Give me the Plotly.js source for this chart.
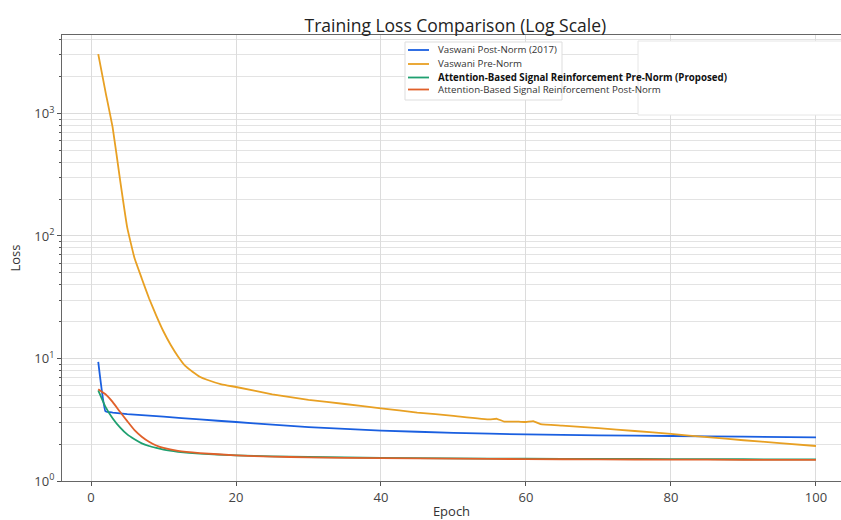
<!DOCTYPE html>
<html>
<head>
<meta charset="utf-8">
<script src="https://cdn.plot.ly/plotly-3.0.1.min.js"></script>
<style>html,body{margin:0;padding:0;background:#fff;}#chart{width:841px;height:520px;}</style>
</head>
<body>
<div id="chart"></div>
<script>
// Series names
const seriesNames = [
  'Vaswani Post-Norm (2017)',
  'Vaswani Pre-Norm',
  '<b>Attention-Based Signal Reinforcement Pre-Norm (Proposed)</b>',
  'Attention-Based Signal Reinforcement Post-Norm'
];

// Vaswani Post-Norm (2017)
const postNormEpochs = [1, 2, 3, 5, 10, 15, 20, 25, 30, 40, 50, 60, 70, 80, 90, 100];
const postNormLoss   = [9.4, 3.7, 3.62, 3.52, 3.35, 3.18, 3.03, 2.88, 2.75, 2.58, 2.47, 2.40, 2.36, 2.33, 2.30, 2.27];

// Vaswani Pre-Norm
const preNormEpochs = [1, 2, 3, 4, 5, 6, 7, 8, 9, 10, 11, 12, 13, 14, 15, 16, 18, 20, 25, 30, 35, 40, 45, 50, 55, 56, 57, 58, 59, 60, 61, 62, 65, 70, 75, 80, 85, 90, 95, 100];
const preNormLoss   = [3050, 1500, 760, 290, 117, 66, 45, 31, 22.4, 16.6, 12.9, 10.4, 8.7, 7.8, 7.1, 6.7, 6.15, 5.85, 5.1, 4.6, 4.25, 3.92, 3.62, 3.40, 3.18, 3.22, 3.05, 3.05, 3.05, 3.03, 3.08, 2.91, 2.83, 2.70, 2.56, 2.42, 2.28, 2.15, 2.04, 1.93];

// Attention-Based Signal Reinforcement Pre-Norm (Proposed)
const asrPreEpochs = [1, 2, 3, 4, 5, 6, 7, 8, 9, 10, 12, 15, 20, 25, 30, 40, 50, 60, 70, 80, 90, 100];
const asrPreLoss   = [5.5, 4.03, 3.24, 2.74, 2.40, 2.19, 2.03, 1.93, 1.86, 1.80, 1.73, 1.67, 1.62, 1.59, 1.57, 1.545, 1.53, 1.52, 1.515, 1.51, 1.505, 1.50];

// Attention-Based Signal Reinforcement Post-Norm
const asrPostEpochs = [1, 2, 3, 4, 5, 6, 7, 8, 9, 10, 12, 15, 20, 25, 30, 40, 50, 60, 70, 80, 90, 100];
const asrPostLoss   = [5.6, 5.1, 4.4, 3.67, 3.08, 2.60, 2.30, 2.09, 1.95, 1.86, 1.76, 1.69, 1.62, 1.58, 1.56, 1.535, 1.52, 1.51, 1.50, 1.495, 1.49, 1.485];

const colors = ['#1A5FE0', '#E8A023', '#1FA070', '#E0602A'];

const xs = [postNormEpochs, preNormEpochs, asrPreEpochs, asrPostEpochs];
const ys = [postNormLoss, preNormLoss, asrPreLoss, asrPostLoss];

const traces = xs.map((x, i) => ({
  x: x, y: ys[i], type: 'scatter', mode: 'lines', name: seriesNames[i],
  line: {color: colors[i], width: 1.8, shape: 'spline', smoothing: 0.3},
  showlegend: false
}));

const yTickVals = [1, 10, 100, 1000];
const yTickText = ['10<sup>0</sup>', '10<sup>1</sup>', '10<sup>2</sup>', '10<sup>3</sup>'];
const xTickVals = [0, 20, 40, 60, 80, 100];

// pixel -> paper helpers (plot area: x 62..841, y 35..481)
const px = v => (v - 62) / 779;
const py = v => (481 - v) / 446;

// Legend drawn as layout decorations
const legendRowsY = [50, 64, 77.5, 89.5];
const shapes = [
  {type: 'rect', xref: 'paper', yref: 'paper', layer: 'above',
   x0: px(638), x1: 1.02, y0: py(115), y1: py(41),
   fillcolor: '#ffffff', line: {color: '#e6e6e6', width: 1}},
  {type: 'rect', xref: 'paper', yref: 'paper', layer: 'above',
   x0: px(405), x1: px(562), y0: py(100), y1: py(42),
   fillcolor: '#ffffff', line: {color: '#dddddd', width: 1}}
];
const annotations = [];
seriesNames.forEach((name, i) => {
  shapes.push({type: 'line', xref: 'paper', yref: 'paper', layer: 'above',
    x0: px(408), x1: px(429), y0: py(legendRowsY[i]), y1: py(legendRowsY[i]),
    line: {color: colors[i], width: 1.8}});
  annotations.push({xref: 'paper', yref: 'paper', x: px(436), y: py(legendRowsY[i]),
    xanchor: 'left', yanchor: 'middle', showarrow: false, text: name,
    font: {size: 9.7, color: i === 2 ? '#111' : '#333'}});
});

const layout = {
  width: 841, height: 520,
  margin: {l: 62, r: 0, t: 35, b: 39},
  paper_bgcolor: '#fff', plot_bgcolor: '#fff',
  font: {family: 'Open Sans, sans-serif', color: '#333', size: 13},
  title: {text: 'Training Loss Comparison (Log Scale)', x: 0.505, xref: 'paper', y: 0.962, yref: 'container', font: {size: 17.5, color: '#222'}},
  xaxis: {
    range: [-4.0, 103.45], tickvals: xTickVals, ticks: 'outside', ticklen: 4, tickcolor: '#555',
    showline: true, linecolor: '#666', linewidth: 1, mirror: true,
    showgrid: true, gridcolor: '#dcdcdc', gridwidth: 1, zeroline: false,
    tickfont: {size: 13, color: '#444'},
    title: {text: 'Epoch', font: {size: 13, color: '#333'}, standoff: 8}
  },
  yaxis: {
    type: 'log', range: [0, 3.64], tickvals: yTickVals, ticktext: yTickText,
    ticks: 'outside', ticklen: 4, tickcolor: '#555',
    showline: true, linecolor: '#666', linewidth: 1, mirror: true,
    showgrid: true, gridcolor: '#dcdcdc', gridwidth: 1, zeroline: false,
    minor: {dtick: 'D1', showgrid: true, gridcolor: '#e3e3e3', ticks: 'outside', ticklen: 2, tickcolor: '#555'},
    tickfont: {size: 13, color: '#444'},
    title: {text: 'Loss', font: {size: 13, color: '#333'}, standoff: 10}
  },
  shapes: shapes,
  annotations: annotations,
  showlegend: false
};

Plotly.newPlot('chart', traces, layout, {displayModeBar: false, staticPlot: true});
</script>
</body>
</html>
